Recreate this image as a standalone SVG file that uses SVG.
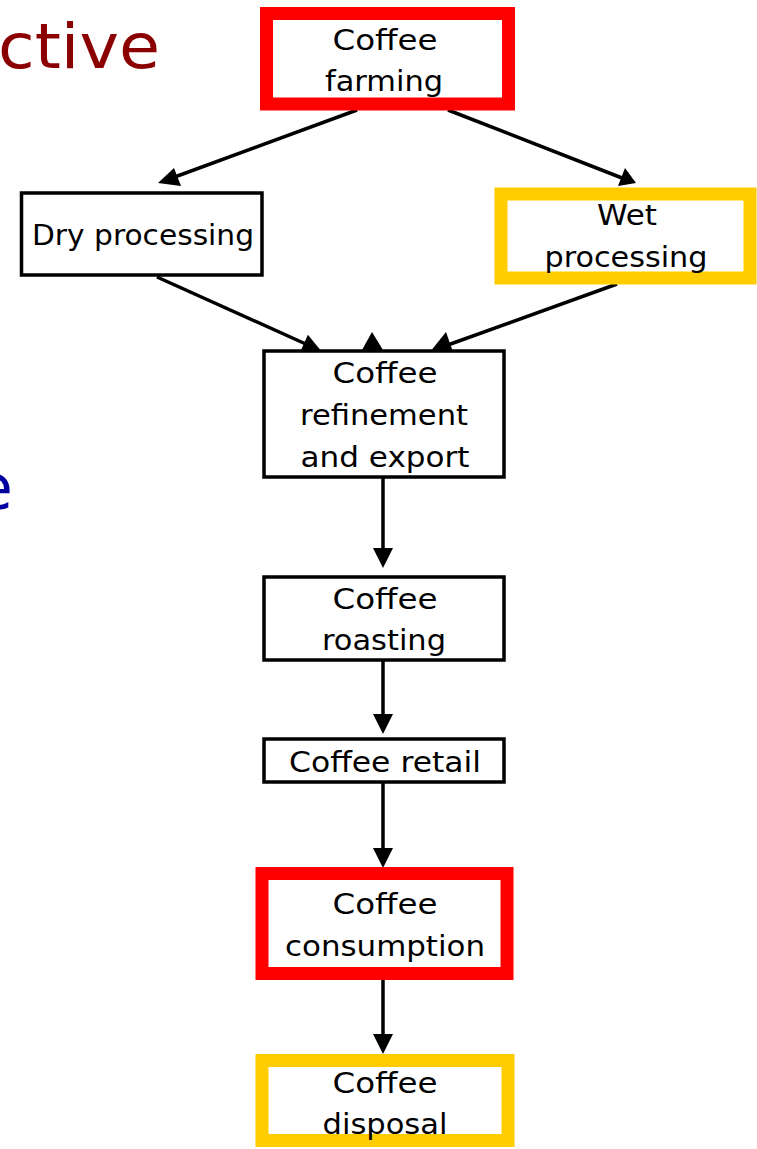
<svg xmlns="http://www.w3.org/2000/svg" width="757" height="1149" viewBox="0 0 757 1149">
<style>
.lbl{font-family:"DejaVu Sans","Liberation Sans",sans-serif;font-size:28px;fill:#000;text-anchor:middle}
.box{fill:#fff;stroke:#000;stroke-width:3.5}
.red{fill:#fff;stroke:#ff0000;stroke-width:13}
.yel{fill:#fff;stroke:#ffcc00;stroke-width:13}
.ln{stroke:#000;stroke-width:3.5;fill:none}
.ah{fill:#000}
</style>
<rect width="757" height="1149" fill="#fff"/>
<text x="-2" y="68" font-family="DejaVu Sans, sans-serif" font-size="62" fill="#8b0000" textLength="162" lengthAdjust="spacingAndGlyphs">ctive</text>
<text x="13" y="509" font-family="DejaVu Sans, sans-serif" font-size="62" fill="#0000a0" text-anchor="end">e</text>
<g id="connectors">
<line class="ln" x1="357" y1="110" x2="172" y2="178"/>
<polygon class="ah" points="158,183 174,168 181,186"/>
<line class="ln" x1="448" y1="110" x2="622" y2="178"/>
<polygon class="ah" points="636,183 618,186 625,168"/>
<line class="ln" x1="157" y1="277" x2="308" y2="345"/>
<polygon class="ah" points="322,352 299.7,352.9 307.9,334.7"/>
<polygon class="ah" points="372,332 362,350 383,350"/>
<line class="ln" x1="617" y1="284" x2="445" y2="346"/>
<polygon class="ah" points="430,352 446,332 453,352"/>
<line class="ln" x1="383" y1="478" x2="383" y2="550"/>
<polygon class="ah" points="373,548 393,548 383,568"/>
<line class="ln" x1="383" y1="660" x2="383" y2="715"/>
<polygon class="ah" points="373,714 393,714 383,734"/>
<line class="ln" x1="383" y1="783" x2="383" y2="850"/>
<polygon class="ah" points="373,848 393,848 383,868"/>
<line class="ln" x1="383" y1="979" x2="383" y2="1035"/>
<polygon class="ah" points="373,1034 393,1034 383,1054"/>
</g>
<g id="farming">
<rect class="red" x="266.5" y="13.5" width="242" height="90.5"/>
<text class="lbl" x="385" y="50" textLength="105" lengthAdjust="spacingAndGlyphs">Coffee</text>
<text class="lbl" x="384" y="91" textLength="118" lengthAdjust="spacingAndGlyphs">farming</text>
</g>
<g id="dry">
<rect class="box" x="21.5" y="193" width="240.5" height="82"/>
<text class="lbl" x="143" y="245" textLength="222" lengthAdjust="spacingAndGlyphs">Dry processing</text>
</g>
<g id="wet">
<rect class="yel" x="501" y="194" width="249" height="84"/>
<text class="lbl" x="627" y="225" textLength="60" lengthAdjust="spacingAndGlyphs">Wet</text>
<text class="lbl" x="626" y="267" textLength="163" lengthAdjust="spacingAndGlyphs">processing</text>
</g>
<g id="refinement">
<rect class="box" x="264" y="351" width="240" height="126"/>
<text class="lbl" x="385" y="383" textLength="105" lengthAdjust="spacingAndGlyphs">Coffee</text>
<text class="lbl" x="384" y="425" textLength="168" lengthAdjust="spacingAndGlyphs">refinement</text>
<text class="lbl" x="385" y="467" textLength="169" lengthAdjust="spacingAndGlyphs">and export</text>
</g>
<g id="roasting">
<rect class="box" x="264" y="577" width="240" height="83"/>
<text class="lbl" x="385" y="609" textLength="105" lengthAdjust="spacingAndGlyphs">Coffee</text>
<text class="lbl" x="384" y="650" textLength="124" lengthAdjust="spacingAndGlyphs">roasting</text>
</g>
<g id="retail">
<rect class="box" x="264" y="739" width="240" height="43"/>
<text class="lbl" x="385" y="772" textLength="192" lengthAdjust="spacingAndGlyphs">Coffee retail</text>
</g>
<g id="consumption">
<rect class="red" x="262" y="873.5" width="245" height="100"/>
<text class="lbl" x="385" y="914" textLength="105" lengthAdjust="spacingAndGlyphs">Coffee</text>
<text class="lbl" x="385" y="956" textLength="200" lengthAdjust="spacingAndGlyphs">consumption</text>
</g>
<g id="disposal">
<rect class="yel" x="262" y="1060.5" width="246" height="80"/>
<text class="lbl" x="385" y="1093" textLength="105" lengthAdjust="spacingAndGlyphs">Coffee</text>
<text class="lbl" x="385" y="1134" textLength="125" lengthAdjust="spacingAndGlyphs">disposal</text>
</g>
</svg>
